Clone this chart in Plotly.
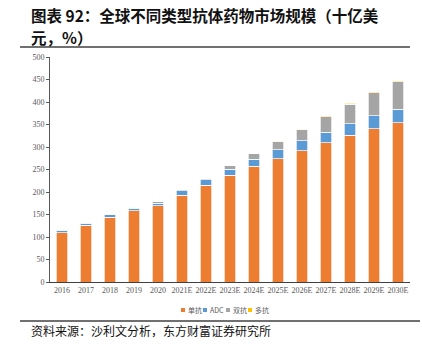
import plotly.graph_objects as go

years = ["2016", "2017", "2018", "2019", "2020", "2021E", "2022E", "2023E",
         "2024E", "2025E", "2026E", "2027E", "2028E", "2029E", "2030E"]
mono = [110, 126, 144, 158, 169, 193, 215, 237, 257, 274, 292, 310, 326, 341, 354]
adc = [5, 5, 5, 6, 6, 10, 12, 14, 16, 20, 22, 23, 26, 29, 30]
bispec = [1, 1, 1, 2, 3, 3, 4, 7, 12, 18, 24, 34, 43, 51, 61]
multi = [0, 0, 0, 0, 0, 0, 0, 0, 0.5, 1, 2, 2, 2, 2, 2]
series_names = ["单抗", "ADC", "双抗", "多抗"]
series_colors = ["#ED7D31", "#5B9BD5", "#A5A5A5", "#FFC000"]
y_ticks = [0, 50, 100, 150, 200, 250, 300, 350, 400, 450, 500]

W, H = 422, 353
ML, MR, MT, MB = 50, 12, 57, 71
PW, PH = W - ML - MR, H - MT - MB

def px(x):
    return (x - ML) / PW

def py(y):
    return (H - MB - y) / PH

fig = go.Figure()
for name, vals, col in zip(series_names, [mono, adc, bispec, multi], series_colors):
    fig.add_trace(go.Bar(x=years, y=vals, name=name,
                         marker=dict(color=col, line=dict(color="white", width=0.7)),
                         showlegend=False))

tickfont = dict(family="Liberation Sans Narrow", size=8, color="#595959")
fig.update_layout(
    width=W, height=H,
    margin=dict(l=ML, r=MR, t=MT, b=MB),
    barmode="stack", bargap=0.54,
    plot_bgcolor="white", paper_bgcolor="white",
    xaxis=dict(showline=True, linecolor="#404040", linewidth=1.3, showgrid=False,
               ticks="", tickfont=tickfont, tickangle=0),
    yaxis=dict(range=[0, 500], tickvals=y_ticks, showline=True, linecolor="#595959",
               linewidth=1, showgrid=False, zeroline=False, ticks="outside",
               ticklen=3, tickcolor="#595959", tickfont=tickfont),
)

title_font = dict(family="Noto Sans CJK SC", size=15.5, color="#111111", weight="bold")
annotations = [
    dict(text="图表 92：全球不同类型抗体药物市场规模（十亿美",
         x=px(29), y=py(15), xref="paper", yref="paper", xanchor="left", yanchor="middle",
         showarrow=False, font=title_font),
    dict(text="元，%）",
         x=px(29), y=py(37), xref="paper", yref="paper", xanchor="left", yanchor="middle",
         showarrow=False, font=title_font),
    dict(text="资料来源：沙利文分析，东方财富证券研究所",
         x=px(29), y=py(330), xref="paper", yref="paper", xanchor="left", yanchor="middle",
         showarrow=False, font=dict(family="Noto Sans CJK SC", size=12, color="#111111")),
]
shapes = [
    dict(type="line", xref="paper", yref="paper", x0=px(20), x1=px(410), y0=py(47), y1=py(47),
         line=dict(color="#404040", width=1.5)),
    dict(type="line", xref="paper", yref="paper", x0=px(20), x1=px(420), y0=py(321), y1=py(321),
         line=dict(color="#404040", width=1.5)),
]

# compact legend
leg_x = [181, 203, 226, 248]
for name, col, lx in zip(series_names, series_colors, leg_x):
    shapes.append(dict(type="rect", xref="paper", yref="paper",
                       x0=px(lx), x1=px(lx + 4), y0=py(308), y1=py(312),
                       fillcolor=col, line=dict(width=0)))
    annotations.append(dict(text=name, x=px(lx + 5), y=py(310), xref="paper", yref="paper",
                            xanchor="left", yanchor="middle", showarrow=False,
                            font=dict(family="Noto Sans CJK SC", size=7, color="#595959")))

fig.update_layout(annotations=annotations, shapes=shapes)
fig.write_html("out.html")
